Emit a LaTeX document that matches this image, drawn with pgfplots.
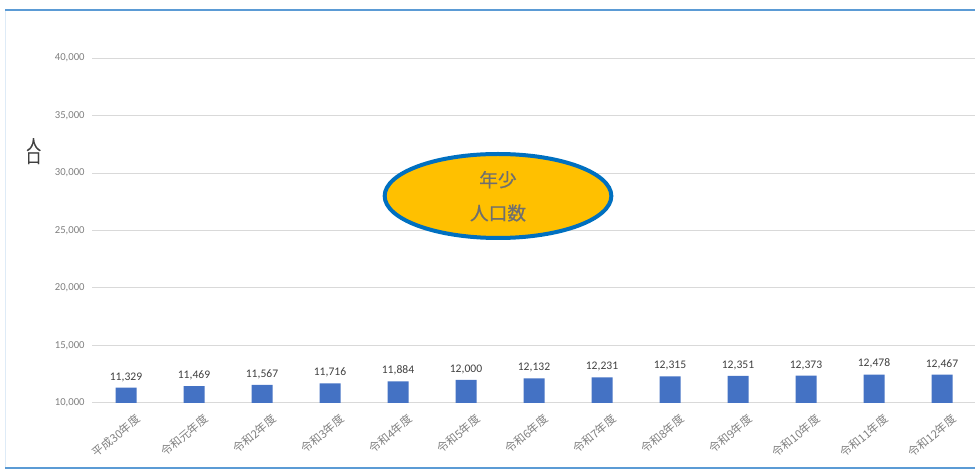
\documentclass[border=0pt]{standalone}
\usepackage{fontspec}
\usepackage{pgfplots}
\pgfplotsset{compat=1.18}
\setmainfont{Carlito}
\newfontfamily\cjk{Noto Sans CJK JP}
\newfontfamily\cjkb[FakeBold=0.6]{Noto Sans CJK JP}
\definecolor{barblue}{HTML}{4472C4}
\definecolor{gridgray}{HTML}{D9D9D9}
\definecolor{ticktext}{HTML}{7F7F7F}
\definecolor{valtext}{HTML}{404040}
\definecolor{elltext}{HTML}{6F6F6F}
\definecolor{frameblue}{HTML}{5B9BD5}
\definecolor{framelight}{HTML}{DEEBF7}
\definecolor{ellblue}{HTML}{0070C0}
\definecolor{ellfill}{HTML}{FFC000}
\pgfplotstableread{
x y
0 11329
1 11469
2 11567
3 11716
4 11884
5 12000
6 12132
7 12231
8 12315
9 12351
10 12373
11 12478
12 12467
}\pop
\begin{document}
\begin{tikzpicture}
\path[use as bounding box] (0pt,0pt) rectangle (731.25pt,353.25pt);
\draw[framelight, line width=0.75pt] (3.75pt,345.75pt) -- (3.75pt,2.6pt);
\begin{axis}[
  at={(69pt,51pt)}, anchor=south west,
  scale only axis, width=663pt, height=258.75pt,
  xmin=-0.5, xmax=12.5, ymin=10000, ymax=40000,
  ytick={10000,15000,...,40000},
  xtick={0,...,12},
  xticklabels={平成30年度,令和元年度,令和2年度,令和3年度,令和4年度,令和5年度,令和6年度,令和7年度,令和8年度,令和9年度,令和10年度,令和11年度,令和12年度},
  ymajorgrids, grid style={gridgray, line width=0.75pt},
  major tick length=0pt,
  axis line style={draw=none},
  x axis line style={draw=none},
  /pgf/number format/assume math mode=true,
  /pgf/number format/1000 sep={,},
  scaled y ticks=false,
  yticklabel style={font=\fontsize{8pt}{9pt}\selectfont, text=ticktext, xshift=-2pt},
  xticklabel style={font=\cjk\fontsize{8.5pt}{9pt}\selectfont, text=ticktext, rotate=40, anchor=north east, xshift=1.5pt, yshift=-9pt, inner sep=1pt},
  ylabel={\shortstack{人\\[-2pt]口}},
  ylabel style={at={(axis description cs:-0.066,0.73)}, rotate=-90, anchor=center, font=\cjkb\fontsize{11pt}{12pt}\selectfont, text=valtext},
  clip=false,
]
\addplot[ybar, bar width=15.75pt, fill=barblue, draw=none,
  nodes near coords,
  nodes near coords style={font=\fontsize{8.7pt}{9pt}\selectfont, text=valtext, /pgf/number format/assume math mode=true, /pgf/number format/1000 sep={,}, yshift=1pt},
] table[x=x,y=y] {\pop};
\end{axis}
\draw[frameblue, line width=1.5pt] (3.75pt,345.75pt) -- (731.25pt,345.75pt);
\draw[frameblue, line width=1.5pt] (3.75pt,2.6pt) -- (731.25pt,2.6pt);
\draw[ellblue, fill=ellfill, line width=3pt] (373.5pt,206.25pt) ellipse [x radius=85pt, y radius=31.5pt];
\node[font=\cjkb\fontsize{14pt}{16pt}\selectfont, text=elltext] at (373.5pt,218.5pt) {年少};
\node[font=\cjkb\fontsize{14pt}{16pt}\selectfont, text=elltext] at (373.5pt,193.5pt) {人口数};
\end{tikzpicture}
\end{document}
